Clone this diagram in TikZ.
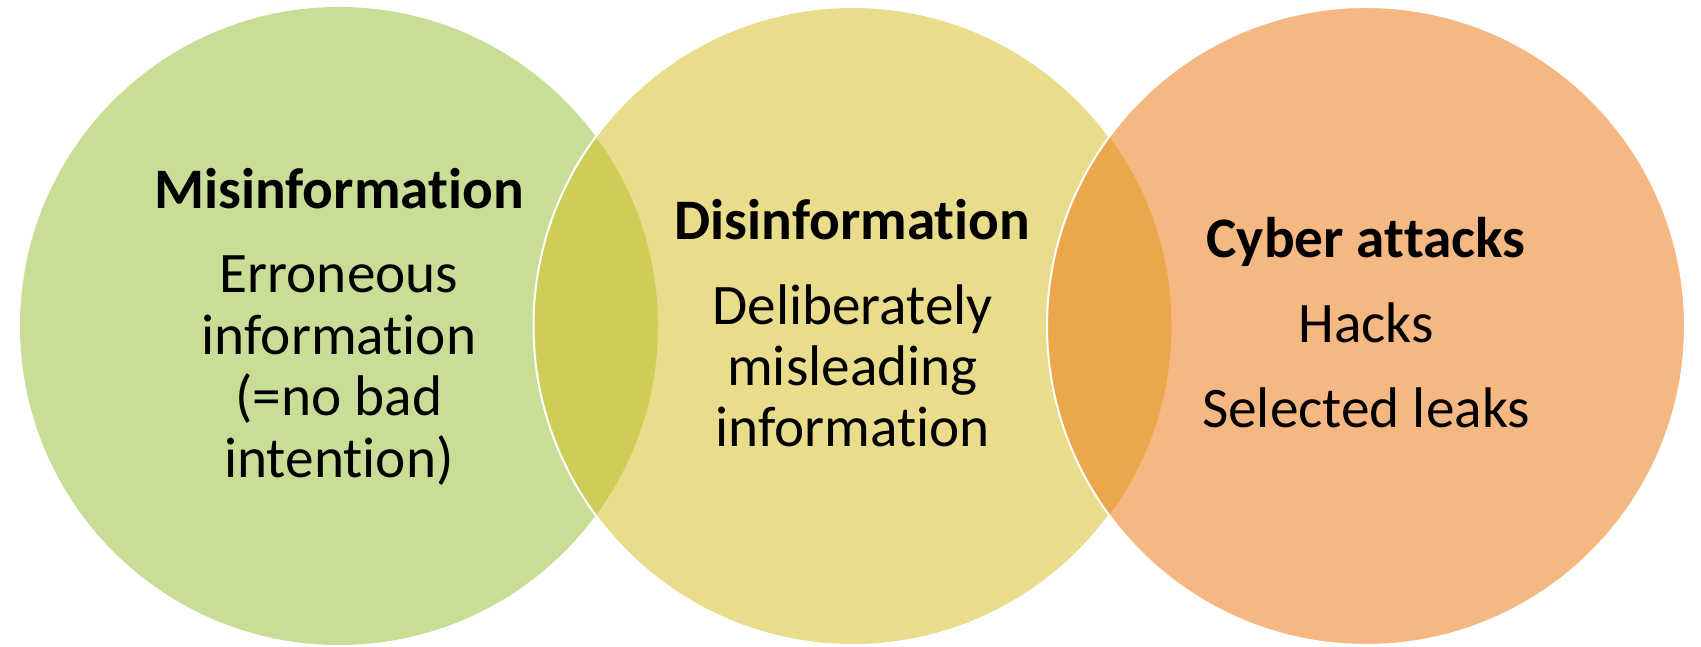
\documentclass[tikz,border=0pt]{standalone}
\usepackage{fontspec}
\setmainfont{Carlito}[Ligatures=NoCommon]
\usepackage{tikz}
\definecolor{misgreen}{RGB}{200,221,149}
\definecolor{disyellow}{RGB}{233,220,138}
\definecolor{cyberorange}{RGB}{246,184,131}
\definecolor{lensgreen}{RGB}{205,205,88}
\definecolor{lensorange}{RGB}{235,167,75}

\begin{document}
\begin{tikzpicture}[
    heading/.style={anchor=base,font=\fontsize{16.3}{19}\selectfont\bfseries},
    textline/.style={anchor=base,font=\fontsize{16.3}{19}\selectfont},
    rim/.style={white,line width=0.02cm}]
    \useasboundingbox (0,0) rectangle (17.01,6.47);

    % centres
    \coordinate (L) at (3.39,3.21);
    \coordinate (M) at (8.525,3.21);
    \coordinate (R) at (13.66,3.21);

    % left and middle circle
    \fill[misgreen] (L) circle (3.19);
    \fill[disyellow] (M) circle (3.19);
    \begin{scope}
        \clip (L) circle (3.19);
        \fill[lensgreen] (M) circle (3.19);
    \end{scope}
    \draw[rim] (M) circle (3.19);

    % right circle
    \fill[cyberorange] (R) circle (3.19);
    \begin{scope}
        \clip (M) circle (3.19);
        \fill[lensorange] (R) circle (3.19);
    \end{scope}
    \draw[rim] (R) circle (3.19);

    % labels
    \node[heading] (misTitle) at (3.39,4.38) {Misinformation};
    \node[textline] (misLineA) at (3.39,3.54) {Erroneous};
    \node[textline] (misLineB) at (3.39,2.925) {information};
    \node[textline] (misLineC) at (3.39,2.31) {(=no bad};
    \node[textline] (misLineD) at (3.39,1.695) {intention)};

    \node[heading] (disTitle) at (8.525,4.07) {Disinformation};
    \node[textline] (disLineA) at (8.525,3.22) {Deliberately};
    \node[textline] (disLineB) at (8.525,2.61) {misleading};
    \node[textline] (disLineC) at (8.525,2.00) {information};

    \node[heading] (cyberTitle) at (13.66,3.89) {Cyber attacks};
    \node[textline] (cyberLineA) at (13.66,3.04) {Hacks};
    \node[textline] (cyberLineB) at (13.66,2.19) {Selected leaks};
\end{tikzpicture}
\end{document}
